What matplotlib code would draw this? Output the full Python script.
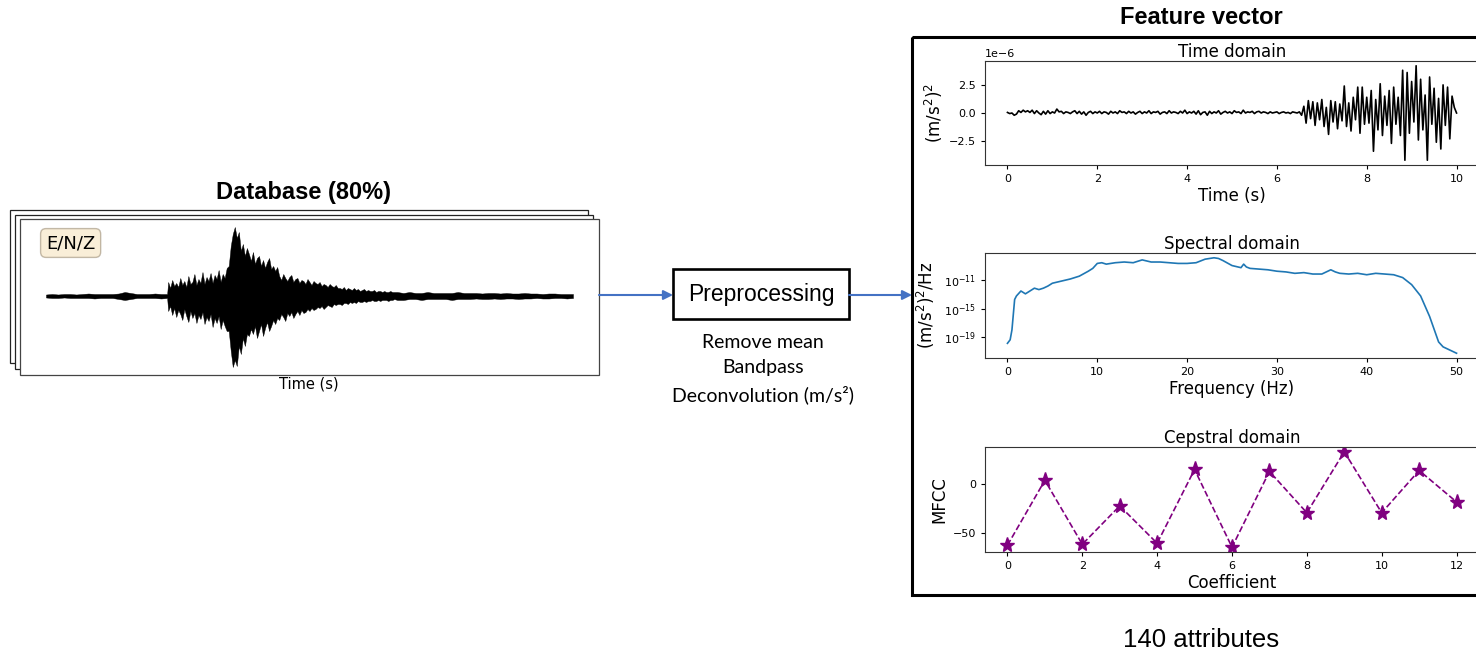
import numpy as np
import matplotlib
matplotlib.use("Agg")
import matplotlib.pyplot as plt
from matplotlib import font_manager
from matplotlib.patches import Rectangle
from matplotlib.ticker import NullLocator

W, H = 1476, 655

# --- database seismogram envelope (upper / lower amplitude, counts) ---
env_quiet_up = [1.5, 2, 1.5, 2, 2, 1.5, 2, 2.5, 2, 2, 2, 2, 2.5, 4, 3, 2, 2, 2, 2.5, 2, 2]
env_quiet_dn = [1.5, 2, 2, 1.5, 2, 2, 2, 2, 2.5, 2, 2, 2, 3, 4, 3, 2, 2, 2, 2, 2.5, 2]
env_burst_up = [14, 8, 16, 10, 13, 9, 18, 11, 15, 9, 20, 12, 14, 22, 11, 17, 13, 24, 12, 19,
                15, 23, 13, 21, 17, 26, 14, 22, 18, 28,
                30, 50, 62, 69, 58, 64, 45, 52, 40, 48,
                42, 35, 44, 32, 38, 40, 30, 36, 28, 34, 38, 27, 30, 25, 29,
                20, 16, 22, 18, 15, 19, 21, 14, 17, 18, 13, 16, 15, 12, 17, 14, 11, 15, 13, 12,
                14, 10, 12, 11, 9, 12, 10, 9, 11, 8,
                8, 7, 9, 6, 8, 7, 6, 8, 6, 7, 5, 6, 7, 5, 6, 5, 5, 6, 4, 5, 5, 4, 5, 4, 4, 5, 4, 4]
env_burst_dn = [15, 10, 19, 12, 21, 14, 18, 24, 13, 20, 26, 15, 22, 17, 27, 19, 23, 16, 28, 21,
                25, 18, 31, 22, 27, 20, 33, 24, 30, 35,
                35, 55, 71, 64, 70, 50, 58, 42, 50, 38,
                40, 33, 38, 30, 42, 35, 28, 40, 32, 26, 35, 30, 24, 28, 22,
                24, 18, 21, 25, 17, 20, 16, 22, 18, 15, 19, 14, 17, 16, 13, 15, 12, 14, 13, 11,
                12, 10, 13, 11, 9, 10, 11, 8, 9, 8,
                8, 9, 7, 7, 8, 6, 7, 6, 7, 5, 6, 6, 5, 6, 5, 5, 4, 5, 5, 4, 5, 4, 4, 4, 5, 4, 4, 3]
env_coda_up = [4, 3, 4, 3, 3, 4, 3, 3, 3, 3, 4, 3, 3, 3, 2.5, 3, 3, 2.5, 3, 2.5,
               2.5, 3, 2.5, 2.5, 2, 2.5, 2.5, 2, 2, 2]
env_coda_dn = [4, 4, 3, 3, 4, 3, 3, 3, 3, 4, 3, 3, 3, 2.5, 3, 3, 2.5, 3, 2.5, 2.5,
               3, 2.5, 2.5, 2, 2.5, 2.5, 2, 2, 2.5, 2]

# --- time domain sample (x1e-6 (m/s^2)^2) ---
sig_quiet = [0.05, -0.05, 0.0, -0.2, -0.1, 0.2, 0.05, 0.25, 0.1, 0.2,
             0.05, 0.25, -0.05, 0.2, 0.0, -0.15, 0.15, -0.1, 0.2, -0.05,
             0.1, 0.0, 0.35, 0.1, 0.15, -0.05, 0.1, 0.05, -0.05, 0.1,
             0.2, -0.05, 0.15, -0.1, 0.1, -0.2, 0.05, 0.15, -0.05, 0.1,
             0.0, 0.15, -0.05, 0.1, 0.05, -0.1, 0.15, 0.0, 0.1, -0.05,
             0.2, 0.05, 0.1, -0.05, 0.15, 0.0, 0.1, -0.1, 0.05, 0.15,
             -0.05, 0.1, 0.0, 0.2, -0.05, 0.1, 0.05, 0.15, -0.1, 0.05,
             0.1, -0.05, 0.2, 0.0, 0.1, 0.05, -0.05, 0.15, 0.0, 0.25,
             -0.05, 0.1, 0.0, 0.15, -0.1, 0.2, -0.15, 0.05, 0.1, -0.2,
             0.15, -0.05, 0.1, 0.0, 0.2, -0.1, 0.05, 0.15, 0.0, 0.1,
             -0.05, 0.2, 0.05, 0.1, -0.05, 0.25, 0.0, 0.1, 0.05, 0.15,
             -0.05, 0.1, 0.15, 0.0, 0.1, 0.05, -0.05, 0.1, 0.0, 0.05,
             0.1, -0.05, 0.05, 0.1, 0.0, 0.05, -0.05, 0.1, 0.05, 0.0]
sig_loud = [0.1, -0.2, 0.6, -0.9, 1.1, -0.5, 1.0, -1.1, 0.9, -0.6, 1.2, -1.2, 0.5, -1.9, 1.1,
            -0.8, 1.0, -1.4, 0.8, -0.7, 2.4, -1.2, 0.9, -1.6, 1.4, -0.6, 2.3, -1.8, 2.3, -1.0,
            1.4, -0.9, 2.0, -3.4, 1.2, -1.5, 2.6, -2.0, 1.5, -1.1, 2.0, -2.7, 2.3, -1.0, 1.4,
            -2.0, 3.8, -4.2, 3.6, -1.8, 2.8, -0.8, 4.2, -2.4, 3.0, -1.5, 1.6, -4.2, 3.2, -1.0,
            2.2, -2.6, 1.3, -3.2, 2.5, -1.1, 2.3, -2.3, 1.5, 0.5, 0.0]

# --- spectral domain (Hz, log10 PSD) ---
psd_f = [0, 0.3, 0.5, 0.8, 1.0, 1.5, 2, 2.5, 3, 3.5, 4, 4.5, 5, 6, 7, 7.5, 8, 9, 9.5, 10,
         10.5, 11, 11.5, 12, 13, 14, 15, 16, 17, 18, 19, 20, 21, 22, 22.5, 23, 23.5, 24, 25,
         26, 26.3, 26.6, 27, 28, 29, 30, 31, 32, 33, 34, 35, 35.5, 36, 36.5, 37, 38, 39, 40,
         41, 42, 43, 44, 45, 46, 47, 48, 48.5, 49, 50]
psd_log = [-19.9, -19.4, -18.0, -13.7, -13.2, -12.5, -12.9, -12.5, -12.1, -12.3, -12.1, -11.8,
           -11.4, -11.1, -10.8, -10.6, -10.4, -9.7, -9.3, -8.6,
           -8.5, -8.7, -8.6, -8.5, -8.4, -8.5, -8.1, -8.4, -8.4, -8.5, -8.6, -8.6, -8.5, -8.0,
           -7.9, -7.8, -7.9, -8.2, -8.9,
           -9.2, -8.7, -9.1, -9.3, -9.4, -9.5, -9.7, -9.8, -10.0, -9.9, -10.1, -10.1, -9.8,
           -9.5, -9.8, -10.0, -10.1, -10.0, -10.2,
           -10.0, -10.1, -10.2, -10.6, -11.6, -13.2, -16.1, -19.7, -20.4, -20.7, -21.3]

# --- cepstral domain ---
mfcc_idx = list(range(13))
mfcc = [-62, 4, -61, -22, -60, 15, -64, 13, -29, 33, -29, 14, -18]


def liberation(bold=False, size=12):
    # pick the regular-width Liberation Sans file (avoid the Narrow variant)
    for f in font_manager.fontManager.ttflist:
        if (f.name == "Liberation Sans" and "Narrow" not in f.fname
                and (f.weight == 700) == bold and f.style == "normal"):
            return font_manager.FontProperties(fname=f.fname, size=size)
    return font_manager.FontProperties(family="Liberation Sans",
                                       weight="bold" if bold else "normal", size=size)


fig = plt.figure(figsize=(W / 100, H / 100), dpi=100)
bg = fig.add_axes([0, 0, 1, 1])
bg.set_xlim(0, W)
bg.set_ylim(H, 0)
bg.axis("off")


def box(l, t, r, b):
    return [l / W, 1 - b / H, (r - l) / W, (b - t) / H]


# stacked frames
for (l, t, r, b), ec in [((10, 210, 588, 363), "#222222"),
                         ((15, 215, 593, 369), "#222222"),
                         ((20, 219, 599, 375), "#444444")]:
    bg.add_patch(Rectangle((l, t), r - l, b - t, fc="white", ec=ec, lw=0.9))

bg.text(304, 192, "Database (80%)", ha="center", va="center",
        fontproperties=liberation(True, 17))
bg.text(309, 384, "Time (s)", ha="center", va="center", fontsize=10.5)
bg.text(46, 243, "E/N/Z", ha="left", va="center", fontsize=13,
        bbox=dict(boxstyle="round,pad=0.3", fc="wheat", ec="#8a7a60", alpha=0.5))

# arrows + preprocessing box
arrow_kw = dict(arrowstyle="-|>", color="#4472C4", lw=1.5, mutation_scale=14,
                shrinkA=0, shrinkB=0)
bg.annotate("", xy=(673, 295), xytext=(599, 295), arrowprops=arrow_kw)
bg.annotate("", xy=(912, 295), xytext=(849, 295), arrowprops=arrow_kw)
bg.add_patch(Rectangle((673, 269), 176, 50, fc="white", ec="black", lw=1.9))
bg.text(761, 295, "Preprocessing", ha="center", va="center",
        fontproperties=liberation(False, 16.5))
for y, s in [(343, "Remove mean"), (367, "Bandpass"), (395, "Deconvolution (m/s²)")]:
    bg.text(763, y, s, ha="center", va="center", fontsize=14, family="Lato")

# feature vector frame
bg.add_patch(Rectangle((912, 37), 700, 558, fc="none", ec="black", lw=2.2))
bg.text(1201, 17, "Feature vector", ha="center", va="center",
        fontproperties=liberation(True, 17))
bg.text(1201, 640, "140 attributes", ha="center", va="center",
        fontproperties=liberation(False, 18.5))

# database seismogram
ax0 = fig.add_axes(box(46, 227, 573, 367))
t_env = np.concatenate([np.arange(len(env_quiet_up)) * 1.5,
                        30.25 + np.arange(len(env_burst_up)) * 0.5,
                        87.0 + np.arange(len(env_coda_up)) * 1.5])
up = np.array(env_quiet_up + env_burst_up + env_coda_up, dtype=float)
dn = -np.array(env_quiet_dn + env_burst_dn + env_coda_dn, dtype=float)
ax0.fill_between(t_env, dn, up, color="black", lw=0.3, edgecolor="black")
ax0.set_xlim(t_env[0], t_env[-1])
ax0.set_ylim(-71, 69)
ax0.axis("off")

lab_fs, tick_fs = 12, 8

# time domain
ax1 = fig.add_axes(box(985, 61, 1479, 165))
t_sig = np.concatenate([np.arange(len(sig_quiet)) * 0.05,
                        6.5 + np.arange(len(sig_loud)) * 0.05])
ax1.plot(t_sig, np.array(sig_quiet + sig_loud) * 1e-6, color="black", lw=1.2)
ax1.set_xticks([0, 2, 4, 6, 8, 10])
ax1.set_yticks([-2.5e-6, 0, 2.5e-6])
ax1.set_title("Time domain", fontsize=lab_fs, pad=3)
ax1.set_xlabel("Time (s)", fontsize=lab_fs, labelpad=2)
ax1.set_ylabel(r"(m/s$^2$)$^2$", fontsize=lab_fs)
ax1.yaxis.set_label_coords(-0.08, 0.5)

# spectral domain
ax2 = fig.add_axes(box(985, 253, 1479, 358))
ax2.semilogy(psd_f, 10.0 ** np.array(psd_log), color="#1f77b4", lw=1.2)
ax2.set_yticks([1e-19, 1e-15, 1e-11])
ax2.yaxis.set_minor_locator(NullLocator())
ax2.set_xticks([0, 10, 20, 30, 40, 50])
ax2.set_title("Spectral domain", fontsize=lab_fs, pad=3)
ax2.set_xlabel("Frequency (Hz)", fontsize=lab_fs, labelpad=2)
ax2.set_ylabel(r"(m/s$^2$)$^2$/Hz", fontsize=lab_fs)
ax2.yaxis.set_label_coords(-0.097, 0.5)

# cepstral domain
ax3 = fig.add_axes(box(985, 447, 1479, 552))
ax3.plot(mfcc_idx, mfcc, "*--", color="purple", ms=11, lw=1.2)
ax3.set_xticks([0, 2, 4, 6, 8, 10, 12])
ax3.set_yticks([-50, 0])
ax3.set_title("Cepstral domain", fontsize=lab_fs, pad=3)
ax3.set_xlabel("Coefficient", fontsize=lab_fs, labelpad=2)
ax3.set_ylabel("MFCC", fontsize=lab_fs)
ax3.yaxis.set_label_coords(-0.075, 0.5)

for ax in (ax1, ax2, ax3):
    ax.tick_params(labelsize=tick_fs, length=3)
    ax.yaxis.get_offset_text().set_fontsize(tick_fs)
    for sp in ax.spines.values():
        sp.set_color("#333333")

fig.savefig("out.png", dpi=100)
